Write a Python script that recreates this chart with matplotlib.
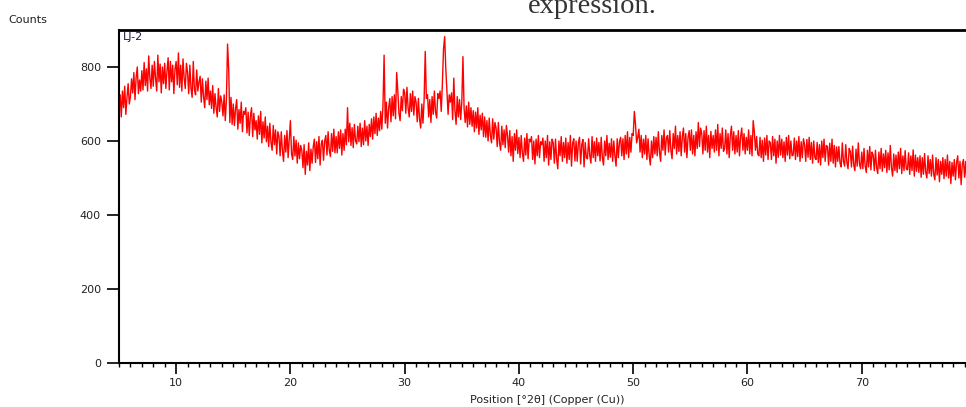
import matplotlib
matplotlib.use('Agg')

import matplotlib.pyplot as plt
from matplotlib.ticker import MultipleLocator
import numpy as np

# scan settings (XRD, Cu)
start_angle = 5.0
step_size = 0.1

# counts, one row per degree 2theta (5 .. 79)
counts_rows = [
    [680, 725, 665, 735, 690, 748, 672, 718, 755, 700],
    [720, 768, 730, 785, 712, 772, 800, 728, 765, 735],
    [790, 738, 812, 750, 795, 735, 830, 770, 742, 805],
    [748, 815, 770, 735, 832, 760, 808, 730, 800, 755],
    [810, 742, 790, 825, 738, 815, 760, 805, 728, 795],
    [815, 752, 838, 745, 805, 735, 822, 770, 742, 810],
    [785, 728, 805, 742, 718, 815, 738, 725, 792, 735],
    [760, 775, 705, 768, 720, 690, 762, 712, 770, 698],
    [735, 688, 750, 675, 728, 690, 665, 742, 680, 722],
    [705, 668, 725, 655, 712, 862, 795, 650, 718, 645],
    [700, 642, 688, 712, 632, 685, 648, 705, 625, 680],
    [672, 690, 622, 678, 615, 668, 690, 612, 675, 630],
    [655, 605, 668, 618, 680, 595, 652, 608, 665, 598],
    [640, 585, 648, 596, 575, 642, 590, 630, 565, 625],
    [612, 560, 625, 575, 545, 615, 570, 628, 555, 605],
    [655, 565, 550, 612, 560, 602, 540, 595, 552, 588],
    [575, 528, 590, 510, 572, 535, 595, 520, 578, 540],
    [585, 605, 542, 598, 552, 612, 535, 592, 602, 548],
    [600, 615, 562, 625, 575, 558, 620, 572, 632, 568],
    [612, 568, 625, 580, 630, 562, 620, 575, 632, 590],
    [690, 598, 648, 588, 636, 582, 645, 600, 592, 640],
    [598, 648, 585, 635, 590, 655, 600, 640, 588, 645],
    [612, 660, 605, 665, 620, 675, 615, 662, 628, 680],
    [632, 695, 832, 648, 705, 635, 690, 715, 652, 720],
    [668, 725, 660, 785, 735, 675, 655, 720, 682, 740],
    [730, 675, 745, 690, 665, 728, 680, 735, 670, 720],
    [705, 652, 715, 660, 635, 700, 648, 710, 842, 715],
    [725, 665, 712, 650, 720, 672, 735, 678, 662, 728],
    [715, 735, 680, 755, 848, 882, 795, 735, 672, 725],
    [705, 730, 658, 770, 682, 645, 720, 665, 712, 658],
    [705, 828, 688, 650, 695, 638, 705, 645, 690, 640],
    [682, 625, 678, 635, 690, 618, 670, 630, 675, 612],
    [665, 610, 655, 600, 662, 615, 595, 660, 605, 650],
    [635, 585, 650, 595, 575, 640, 590, 630, 582, 642],
    [615, 570, 628, 560, 612, 545, 620, 575, 630, 566],
    [610, 555, 615, 568, 545, 608, 562, 620, 552, 605],
    [598, 612, 550, 600, 538, 605, 560, 615, 555, 598],
    [590, 608, 545, 600, 555, 615, 535, 598, 550, 605],
    [595, 540, 605, 552, 525, 600, 560, 612, 545, 596],
    [555, 608, 540, 596, 550, 615, 532, 594, 606, 546],
    [600, 545, 594, 610, 538, 590, 604, 530, 596, 555],
    [552, 606, 560, 540, 612, 555, 598, 545, 608, 560],
    [596, 546, 610, 555, 535, 600, 560, 615, 550, 594],
    [556, 606, 545, 600, 560, 532, 606, 555, 598, 610],
    [560, 606, 550, 615, 565, 625, 555, 610, 570, 620],
    [615, 680, 645, 595, 610, 632, 570, 615, 555, 605],
    [565, 615, 550, 606, 560, 535, 600, 555, 612, 565],
    [610, 560, 625, 570, 545, 615, 575, 630, 562, 608],
    [615, 570, 628, 575, 552, 620, 580, 640, 565, 615],
    [572, 625, 560, 612, 635, 570, 620, 555, 610, 628],
    [575, 630, 565, 615, 560, 625, 580, 650, 585, 635],
    [620, 565, 628, 575, 640, 570, 615, 555, 626, 580],
    [615, 570, 630, 575, 645, 560, 620, 580, 635, 572],
    [580, 630, 565, 620, 555, 615, 640, 575, 625, 565],
    [615, 570, 628, 560, 612, 635, 575, 620, 565, 610],
    [575, 630, 565, 615, 560, 655, 625, 575, 612, 565],
    [560, 610, 555, 602, 545, 608, 562, 615, 550, 600],
    [595, 550, 612, 560, 605, 540, 600, 556, 615, 562],
    [605, 555, 598, 545, 610, 562, 615, 552, 600, 560],
    [562, 608, 550, 600, 558, 612, 545, 598, 555, 606],
    [590, 545, 604, 556, 610, 550, 596, 540, 600, 555],
    [550, 596, 542, 590, 535, 600, 555, 605, 545, 588],
    [585, 535, 594, 545, 605, 540, 588, 530, 584, 545],
    [585, 540, 530, 595, 545, 532, 590, 542, 525, 580],
    [572, 530, 586, 535, 520, 578, 532, 595, 538, 525],
    [570, 525, 580, 532, 515, 575, 530, 585, 522, 570],
    [562, 520, 575, 528, 512, 570, 525, 580, 518, 565],
    [528, 575, 515, 568, 522, 588, 528, 505, 565, 520],
    [562, 515, 570, 525, 580, 512, 560, 520, 574, 525],
    [522, 568, 510, 560, 520, 576, 505, 562, 518, 555],
    [515, 560, 502, 555, 510, 566, 515, 500, 560, 512],
    [550, 505, 562, 510, 495, 555, 508, 550, 490, 545],
    [510, 555, 498, 550, 505, 562, 500, 545, 485, 542],
    [505, 550, 495, 542, 560, 500, 545, 482, 538, 550],
    [502, 545, 490, 540, 498, 550, 494, 536, 500, 545],
]

counts = np.array([c for row in counts_rows for c in row])
two_theta = start_angle + step_size * np.arange(len(counts))

sample_name = 'LJ-2'
x_ticks = [10, 20, 30, 40, 50, 60, 70]
y_ticks = [0, 200, 400, 600, 800]

fig = plt.figure(figsize=(9.66, 4.07), dpi=100)
ax = fig.add_axes([119/966., 1-363/407., (976-119)/966., (363-30)/407.])

ax.plot(two_theta, counts, color='red', linewidth=1.0)

ax.set_xlim(5, 80)
ax.set_ylim(0, 900)
ax.set_xticks(x_ticks)
ax.set_yticks(y_ticks)
ax.xaxis.set_minor_locator(MultipleLocator(1))

ax.spines['right'].set_visible(False)
ax.spines['top'].set_linewidth(2)
ax.spines['left'].set_linewidth(1.5)
ax.spines['bottom'].set_linewidth(1.5)

ax.tick_params(axis='both', which='major', direction='out', labelsize=8, colors='black', labelcolor='#222222')
ax.tick_params(axis='y', which='major', length=9, width=1.2, pad=4)
ax.tick_params(axis='x', which='major', length=8, width=1.2, pad=3)
ax.tick_params(axis='x', which='minor', length=3, width=1)

ax.set_xlabel("Position [°2θ] (Copper (Cu))", fontsize=8, color='#222222', labelpad=5)
ax.text(0.004, 0.995, sample_name, transform=ax.transAxes, fontsize=8, color='#1a1a40', va='top', ha='left')

fig.text(8/966., 1-20/407., 'Counts', fontsize=8, color='#222222', va='center', ha='left')

# caption text of the page, cut off at the top (as in the source)
fig.text(528/966., 1-13/407., 'expression.', fontsize=20.5, family='Liberation Serif', color='#333333', va='baseline', ha='left')

fig.savefig('out.png', dpi=100)
plt.close('all')
